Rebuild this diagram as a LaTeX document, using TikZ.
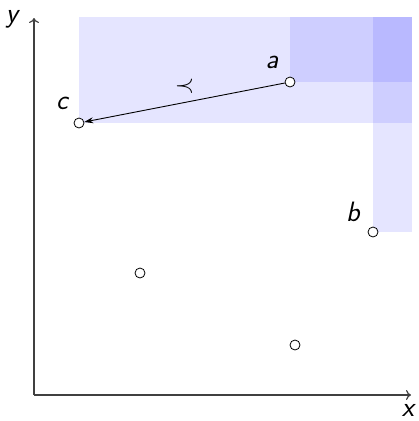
\documentclass[tikz,border=0pt]{standalone}
\usetikzlibrary{arrows.meta}
\begin{document}
\begin{tikzpicture}[x=1pt,y=-1pt,
  pt/.style={circle,draw=black,fill=white,line width=0.8pt,minimum size=10pt,inner sep=0pt},
  lbl/.style={font=\fontsize{28}{30}\selectfont\sffamily\itshape,inner sep=0pt},
  region/.style={fill=blue,fill opacity=0.1,draw=none},
  axis/.style={draw=black!75,line width=1.2pt,-{To[length=5pt,width=10pt]}}]
\useasboundingbox (0,0) rectangle (419,421);
% regions (dominance cones)
\fill[region] (79,17) rectangle (412,123);
\fill[region] (290,17) rectangle (412,82);
\fill[region] (373,17) rectangle (412,232);
% axes
\coordinate (O) at (34,395);
\coordinate (X) at (411,395);
\coordinate (Y) at (34,18);
\draw[axis] (O) -- (X);
\draw[axis] (O) -- (Y);
\node[lbl] (xl) at (408,410) {x};
\node[lbl] (yl) at (12,19) {y};
% points
\node[pt] (a) at (290,82) {};
\node[pt] (b) at (373,232) {};
\node[pt] (c) at (79,123) {};
\node[pt] (d) at (140,273) {};
\node[pt] (e) at (295,345) {};
\node[lbl] (al) at (272,62) {a};
\node[lbl] (bl) at (353,212) {b};
\node[lbl] (cl) at (62,103) {c};
% arrow
\draw[line width=0.9pt,-{Stealth[length=9pt,width=6pt]}] (a) -- (c)
  node[midway,above=9pt,inner sep=0pt,font=\fontsize{26}{28}\selectfont] (prec) {$\prec$};
\end{tikzpicture}
\end{document}
